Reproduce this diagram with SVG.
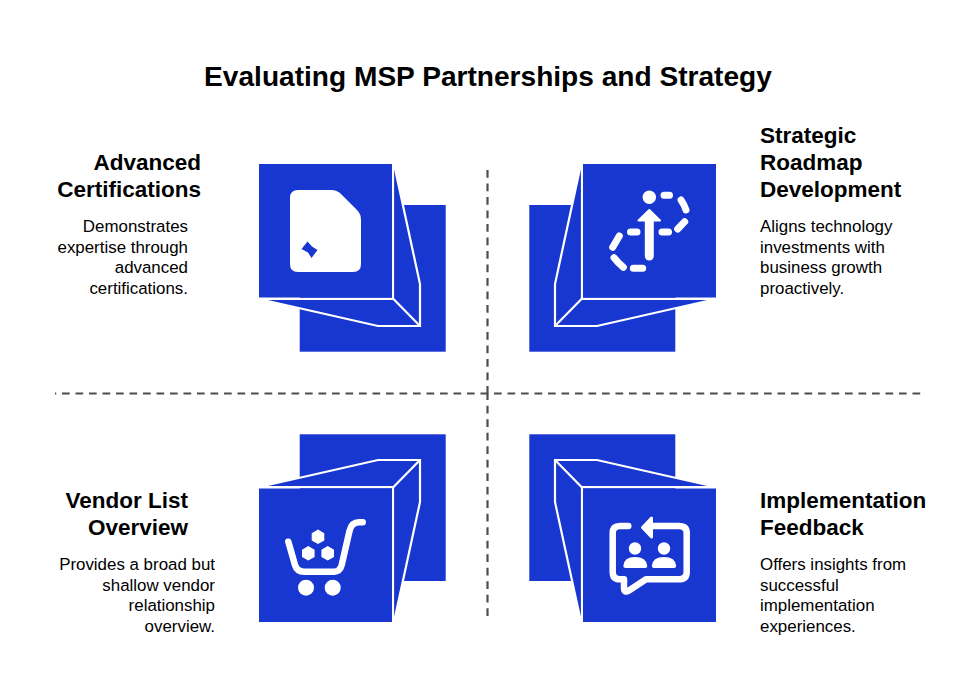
<svg xmlns="http://www.w3.org/2000/svg" width="977" height="693" viewBox="0 0 977 693">
<style>
text{font-family:"Liberation Sans",Arial,sans-serif;fill:#000}
.t{font-size:28.1px;font-weight:700}
.h{font-size:22.5px;font-weight:700}
.b{font-size:16.9px}
.e{text-anchor:end}
.blue{fill:#1836d0}
.fillside{fill:#1836d0}
.edge{fill:none;stroke:#fff;stroke-width:2.2;stroke-linejoin:miter}
.div{fill:none;stroke:#4d4d4d;stroke-width:2.2;stroke-dasharray:7.7 5.8}
.ln{fill:none;stroke:#fff;stroke-width:6.5;stroke-linecap:round;stroke-linejoin:round}
.dash{fill:none;stroke:#fff;stroke-width:7;stroke-linecap:round;stroke-linejoin:round}
.dot{fill:#fff}
</style>
<defs>
<g id="cube">
<rect class="blue" x="299.700" y="205" width="146" height="146.700"/>
<path class="fillside" d="M394 164L420 284V326H378L259 299H392Z"/>
<path class="edge" d="M394 164L420 284V326H378L259 299"/>
<path class="edge" d="M392.500 298L420 326"/>
<path class="edge" d="M393 164V298.800H259"/>
<rect class="blue" x="259" y="164" width="133" height="133.500"/>
</g>
</defs>
<text class="t" x="488" y="86" text-anchor="middle">Evaluating MSP Partnerships and Strategy</text>
<g id="connectors">
<path class="div" d="M487.500 170V393.500"/>
<path class="div" d="M487.500 616V393.500"/>
<path class="div" d="M55 393.500H922" stroke-dashoffset="6.500"/>
</g>
<g id="node-advanced-certifications">
<use href="#cube"/>
<path class="dot" d="M298 190H331Q337 190 341 194L357 210Q361 214 361 220V264Q361 272 353 272H298Q290 272 290 264V198Q290 190 298 190Z"/>
<path class="blue" d="M301.500 249L307.500 241.500L312 246.500L317.500 250L311.500 258L308 252.500Z"/>
<text class="h e" x="201" y="170">Advanced</text>
<text class="h e" x="201" y="197">Certifications</text>
<text class="b e" x="188" y="232">Demonstrates</text>
<text class="b e" x="188" y="253">expertise through</text>
<text class="b e" x="188" y="273">advanced</text>
<text class="b e" x="188" y="294">certifications.</text>
</g>
<g id="node-strategic-roadmap">
<use href="#cube" transform="translate(975 0) scale(-1 1)"/>
<circle class="dot" cx="649.300" cy="197.300" r="6.700"/>
<path class="ln" style="stroke-width:9" d="M649.300 221V256"/>
<path class="dot" stroke="#fff" stroke-width="2" stroke-linejoin="round" d="M649.300 210L660 220.500H638.500Z"/>
<path class="dash" d="M664 195.300H669.500M681 200Q684.500 205 686 210M677.700 229L684.700 221.700M662 232H668.500M630.500 232H637M619.300 236L612.700 247.300M614 257.700Q618 263 623.300 267.300M633.300 268.300H642.700"/>
<text class="h" x="760" y="143">Strategic</text>
<text class="h" x="760" y="170">Roadmap</text>
<text class="h" x="760" y="197">Development</text>
<text class="b" x="760" y="232">Aligns technology</text>
<text class="b" x="760" y="253">investments with</text>
<text class="b" x="760" y="273">business growth</text>
<text class="b" x="760" y="294">proactively.</text>
</g>
<g id="node-vendor-list">
<use href="#cube" transform="translate(0 786) scale(1 -1)"/>
<path class="ln" d="M288.300 541.700L295 565Q297 571.700 304 571.700H334Q340 571.700 341.700 565L349.500 531Q351.500 522.300 359 522.300H362.700"/>
<circle class="dot" cx="306" cy="587.700" r="8"/>
<circle class="dot" cx="332.700" cy="587.700" r="8"/>
<path class="dot" d="M318 529.500L324.300 533.200V540.400L318 544L311.700 540.400V533.200Z"/>
<path class="dot" d="M308.300 546L314.600 549.700V556.900L308.300 560.500L302 556.900V549.700Z"/>
<path class="dot" d="M327.700 546L334 549.700V556.900L327.700 560.500L321.400 556.900V549.700Z"/>
<text class="h e" x="188" y="508">Vendor List</text>
<text class="h e" x="188" y="535">Overview</text>
<text class="b e" x="215" y="570">Provides a broad but</text>
<text class="b e" x="215" y="591">shallow vendor</text>
<text class="b e" x="215" y="611">relationship</text>
<text class="b e" x="215" y="632">overview.</text>
</g>
<g id="node-implementation-feedback">
<use href="#cube" transform="translate(975 786) scale(-1 -1)"/>
<path class="ln" d="M628.300 526H620Q612.700 526 612.700 533V572Q612.700 579.300 620 579.300H624V588Q624 593.500 629 590.500L646 579.300H679Q686.700 579.300 686.700 572V533Q686.700 526 679 526H653.300"/>
<path class="dot" stroke="#fff" stroke-width="3" stroke-linejoin="round" d="M642.500 527.500L651.500 518V537Z"/>
<circle class="dot" cx="635" cy="548.500" r="6.200"/>
<circle class="dot" cx="664" cy="548.500" r="6.200"/>
<path class="dot" d="M623.300 566Q624 557 635 557Q646.500 557 647.300 566Q647.300 568 645 568H625.500Q623.300 568 623.300 566Z"/>
<path class="dot" d="M651.800 566Q652.500 557 664 557Q675.500 557 676.200 566Q676.200 568 674 568H654Q651.800 568 651.800 566Z"/>
<text class="h" x="760" y="508">Implementation</text>
<text class="h" x="760" y="535">Feedback</text>
<text class="b" x="760" y="570">Offers insights from</text>
<text class="b" x="760" y="591">successful</text>
<text class="b" x="760" y="611">implementation</text>
<text class="b" x="760" y="632">experiences.</text>
</g>
</svg>
